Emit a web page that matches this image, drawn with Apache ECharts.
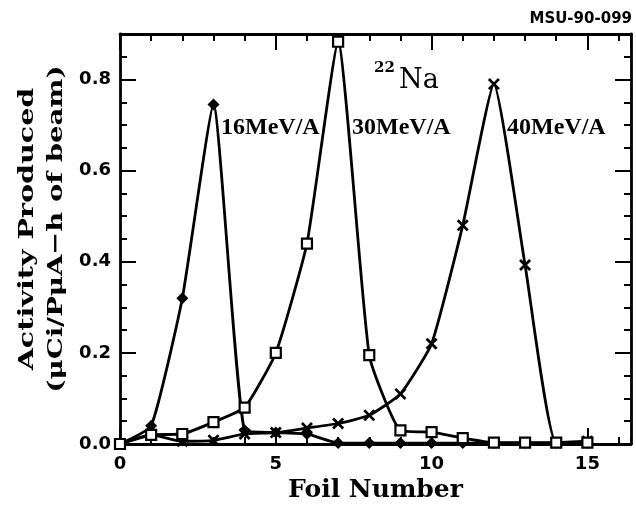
<!DOCTYPE html>
<html>
<head>
<meta charset="utf-8">
<script src="https://cdn.jsdelivr.net/npm/echarts@6/dist/echarts.min.js"></script>
<style>
  html, body { margin: 0; padding: 0; background: #fff; }
  #chart { width: 636px; height: 512px; }
</style>
</head>
<body>
<div id="chart"></div>
<script>
// Foil numbers along the stack
const foil = [0, 1, 2, 3, 4, 5, 6, 7, 8, 9, 10, 11, 12, 13, 14, 15];

// 22Na activity produced (uCi / PuA-h of beam) per foil, by beam energy
const mev16 = [0.0, 0.04, 0.32, 0.745, 0.03, 0.025, 0.022, 0.002, 0.002, 0.002, 0.002, 0.002, 0.002, 0.002, 0.002, 0.002];
const mev30 = [0.0, 0.02, 0.022, 0.048, 0.08, 0.2, 0.44, 0.883, 0.195, 0.03, 0.026, 0.013, 0.003, 0.003, 0.003, 0.003];
const mev40 = [0.0, 0.02, 0.006, 0.008, 0.022, 0.025, 0.035, 0.045, 0.063, 0.11, 0.22, 0.48, 0.79, 0.393, 0.003, 0.006];

// Curve labels
const curveNames = ['16MeV/A', '30MeV/A', '40MeV/A'];

// Axis ranges
const xRange = [0, 16.4];
const yRange = [0, 0.9];

const toPairs = vals => vals.map((v, i) => [foil[i], v]);

const crossPath = 'path://M0,1.6L1.6,0L10,8.4L8.4,10Z M8.4,0L10,1.6L1.6,10L0,8.4Z';

const ink = '#000';
const frameW = 2.8;
const curveSmooth = 0.15;

function xAxisDef(pos, interval, len, showLine, showLabel) {
  return {
    type: 'value', position: pos, min: xRange[0], max: xRange[1], interval: interval,
    axisLine: { show: showLine, onZero: false, lineStyle: { color: ink, width: frameW } },
    axisTick: { show: true, inside: true, length: len, lineStyle: { color: ink, width: 2 } },
    axisLabel: {
      show: showLabel, margin: 11, color: ink, showMaxLabel: false,
      fontFamily: 'DejaVu Sans', fontWeight: 'bold', fontSize: 18
    },
    splitLine: { show: false }
  };
}

function yAxisDef(pos, interval, len, showLine, showLabel) {
  return {
    type: 'value', position: pos, min: yRange[0], max: yRange[1], interval: interval,
    axisLine: { show: showLine, onZero: false, lineStyle: { color: ink, width: frameW } },
    axisTick: { show: true, inside: true, length: len, lineStyle: { color: ink, width: 2 } },
    axisLabel: {
      show: showLabel, margin: 9, color: ink, showMaxLabel: false,
      fontFamily: 'DejaVu Sans', fontWeight: 'bold', fontSize: 18,
      formatter: v => v.toFixed(1)
    },
    splitLine: { show: false }
  };
}

const bottomMajor = xAxisDef('bottom', 5, 16, true, true);
bottomMajor.name = 'Foil Number';
bottomMajor.nameLocation = 'middle';
bottomMajor.nameGap = 32;
bottomMajor.nameTextStyle = { color: ink, fontFamily: 'DejaVu Serif', fontWeight: 'bold', fontSize: 25 };

const lineStyle = { color: ink, width: 2.8 };

const option = {
  animation: false,
  backgroundColor: '#fff',
  grid: { left: 120, right: 5, top: 34, bottom: 68 },
  xAxis: [
    bottomMajor,
    xAxisDef('bottom', 1, 7, false, false),
    xAxisDef('top', 5, 16, true, false),
    xAxisDef('top', 1, 7, false, false)
  ],
  yAxis: [
    yAxisDef('left', 0.2, 16, true, true),
    yAxisDef('left', 0.05, 7, false, false),
    yAxisDef('right', 0.2, 16, true, false),
    yAxisDef('right', 0.05, 7, false, false)
  ],
  series: [
    {
      name: curveNames[0], type: 'line', smooth: curveSmooth, showAllSymbol: true,
      data: toPairs(mev16), symbol: 'diamond', symbolSize: 12,
      itemStyle: { color: ink }, lineStyle: lineStyle, z: 3
    },
    {
      name: curveNames[1], type: 'line', smooth: curveSmooth, showAllSymbol: true,
      data: toPairs(mev30), symbol: 'rect', symbolSize: 10,
      itemStyle: { color: '#fff', borderColor: ink, borderWidth: 2.2 },
      lineStyle: lineStyle, z: 4
    },
    {
      name: curveNames[2], type: 'line', smooth: curveSmooth, showAllSymbol: true,
      data: toPairs(mev40), symbol: crossPath, symbolSize: 12,
      itemStyle: { color: ink }, lineStyle: lineStyle, z: 3
    }
  ],
  graphic: [
    // two-line vertical axis title
    {
      type: 'text', x: 28, y: 229, rotation: Math.PI / 2, scaleX: 1.36,
      style: {
        text: 'Activity Produced', font: 'bold 21px "DejaVu Serif"', fill: ink,
        align: 'center', verticalAlign: 'middle', textAlign: 'center', textVerticalAlign: 'middle'
      }
    },
    {
      type: 'text', x: 57, y: 229, rotation: Math.PI / 2, scaleX: 1.31,
      style: {
        text: '(\u03bcCi/P\u03bcA\u2212h of beam)', font: 'bold 21px "DejaVu Serif"', fill: ink,
        align: 'center', verticalAlign: 'middle', textAlign: 'center', textVerticalAlign: 'middle'
      }
    },
    // curve labels
    {
      type: 'text', x: 221, y: 128,
      style: { text: curveNames[0], font: 'bold 24px "Liberation Serif"', fill: ink,
        align: 'left', verticalAlign: 'middle', textAlign: 'left', textVerticalAlign: 'middle' }
    },
    {
      type: 'text', x: 352, y: 128,
      style: { text: curveNames[1], font: 'bold 24px "Liberation Serif"', fill: ink,
        align: 'left', verticalAlign: 'middle', textAlign: 'left', textVerticalAlign: 'middle' }
    },
    {
      type: 'text', x: 507, y: 128,
      style: { text: curveNames[2], font: 'bold 24px "Liberation Serif"', fill: ink,
        align: 'left', verticalAlign: 'middle', textAlign: 'left', textVerticalAlign: 'middle' }
    },
    // isotope tag
    {
      type: 'text', x: 374, y: 68,
      style: { text: '22', font: 'bold 15px "DejaVu Serif"', fill: ink,
        align: 'left', verticalAlign: 'middle', textAlign: 'left', textVerticalAlign: 'middle' }
    },
    {
      type: 'text', x: 399, y: 81,
      style: { text: 'Na', font: '27px "DejaVu Serif"', fill: ink,
        align: 'left', verticalAlign: 'middle', textAlign: 'left', textVerticalAlign: 'middle' }
    },
    // figure code
    {
      type: 'text', x: 632, y: 19,
      style: { text: 'MSU-90-099', font: 'bold 15px "DejaVu Sans"', fill: ink,
        align: 'right', verticalAlign: 'middle', textAlign: 'right', textVerticalAlign: 'middle' }
    }
  ]
};

const chart = echarts.init(document.getElementById('chart'), null, { renderer: 'canvas' });
chart.setOption(option);
</script>
</body>
</html>
